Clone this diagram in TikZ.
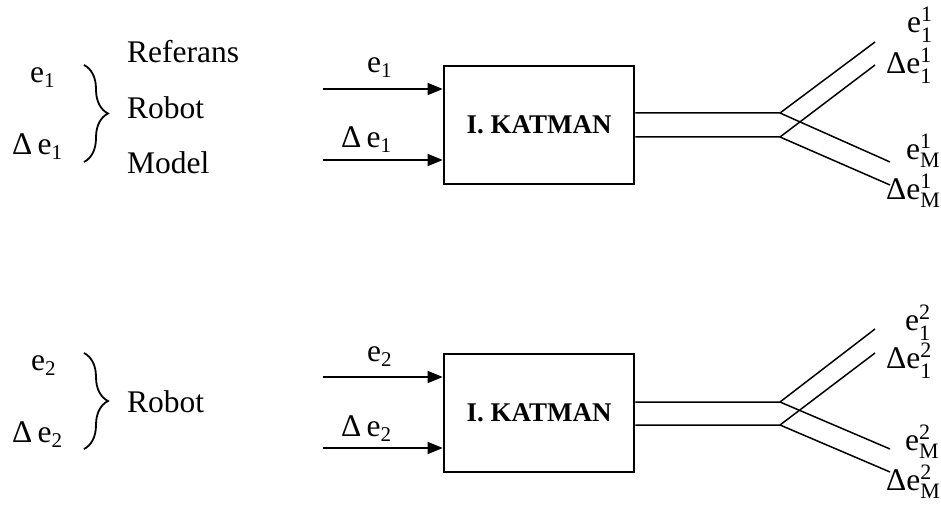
\documentclass[tikz,border=0pt]{standalone}
\usepackage{fontspec}
\setmainfont{Liberation Serif}
\usetikzlibrary{decorations.pathreplacing,arrows.meta}
\newcommand{\lo}[1]{\raisebox{-5pt}{\fontsize{21}{21}\selectfont #1}}
\newcommand{\ud}[3]{\rlap{\raisebox{11pt}{\fontsize{22}{22}\selectfont #1}}\raisebox{-#3}{\fontsize{22}{22}\selectfont #2}}
\begin{document}
\begin{tikzpicture}[x=1pt,y=-1pt,
  lbl/.style={inner sep=0pt, anchor=base west, font=\fontsize{31.5}{36}\selectfont},
  layer/.style={draw, line width=2.6pt, minimum width=190pt, minimum height=118pt, inner sep=0pt, font=\fontsize{27}{30}\selectfont\bfseries},
  arr/.style={line width=1.5pt, -{Triangle[length=15pt,width=12pt]}},
  wire/.style={line width=1.5pt},
  br/.style={line width=1.8pt, decorate, decoration={brace, amplitude=24pt, aspect=0.5}}]
\useasboundingbox (0,0) rectangle (941,510);

% ---------- top block ----------
\node[lbl] (le1) at (30,83) {e\lo{1}};
\node[lbl] (lde1) at (12,155) {Δ\,e\lo{1}};
\coordinate (b1t) at (84,65);
\coordinate (b1b) at (84,162);
\draw[br] (b1t) -- (b1b);
\node[lbl] (ref) at (127,63) {Referans};
\node[lbl] (rob1) at (127,119) {Robot};
\node[lbl] (mod) at (127,174) {Model};

\node[layer] (k1) at (539,125) {I. KATMAN};
\coordinate (i1a) at (323,89);
\coordinate (i1b) at (323,160);
\draw[arr] (i1a) -- (i1a -| k1.west);
\draw[arr] (i1b) -- (i1b -| k1.west);
\node[lbl] (ae1) at (367,73) {e\lo{1}};
\node[lbl] (ade1) at (341,148) {Δ\,e\lo{1}};

\coordinate (s1a) at (780,113);
\coordinate (s1b) at (780,137);
\coordinate (o1a) at (875,42);
\coordinate (o1b) at (875,65);
\coordinate (o1c) at (890,162);
\coordinate (o1d) at (890,185);
\draw[wire] (s1a -| k1.east) -- (s1a) -- (o1a);
\draw[wire] (s1b -| k1.east) -- (s1b) -- (o1b);
\draw[wire] (s1a) -- (o1c);
\draw[wire] (s1b) -- (o1d);
\node[lbl] (t1a) at (907,33) {e\ud{1}{1}{10pt}};
\node[lbl] (t1b) at (886,74) {Δe\ud{1}{1}{10pt}};
\node[lbl] (t1c) at (906,160) {e\ud{1}{M}{8pt}};
\node[lbl] (t1d) at (886,200) {Δe\ud{1}{M}{8pt}};

% ---------- bottom block ----------
\node[lbl] (le2) at (31,370) {e\lo{2}};
\node[lbl] (lde2) at (12,442) {Δ\,e\lo{2}};
\coordinate (b2t) at (84,353);
\coordinate (b2b) at (84,449);
\draw[br] (b2t) -- (b2b);
\node[lbl] (rob2) at (127,412) {Robot};

\node[layer] (k2) at (539,413) {I. KATMAN};
\coordinate (i2a) at (323,377);
\coordinate (i2b) at (323,448);
\draw[arr] (i2a) -- (i2a -| k2.west);
\draw[arr] (i2b) -- (i2b -| k2.west);
\node[lbl] (ae2) at (367,361) {e\lo{2}};
\node[lbl] (ade2) at (341,436) {Δ\,e\lo{2}};

\coordinate (s2a) at (780,402);
\coordinate (s2b) at (780,425);
\coordinate (o2a) at (875,329);
\coordinate (o2b) at (875,353);
\coordinate (o2c) at (890,449);
\coordinate (o2d) at (890,472);
\draw[wire] (s2a -| k2.east) -- (s2a) -- (o2a);
\draw[wire] (s2b -| k2.east) -- (s2b) -- (o2b);
\draw[wire] (s2a) -- (o2c);
\draw[wire] (s2b) -- (o2d);
\node[lbl] (t2a) at (905,330) {e\ud{2}{1}{10pt}};
\node[lbl] (t2b) at (886,368) {Δe\ud{2}{1}{10pt}};
\node[lbl] (t2c) at (905,450) {e\ud{2}{M}{8pt}};
\node[lbl] (t2d) at (886,490) {Δe\ud{2}{M}{8pt}};
\end{tikzpicture}
\end{document}
